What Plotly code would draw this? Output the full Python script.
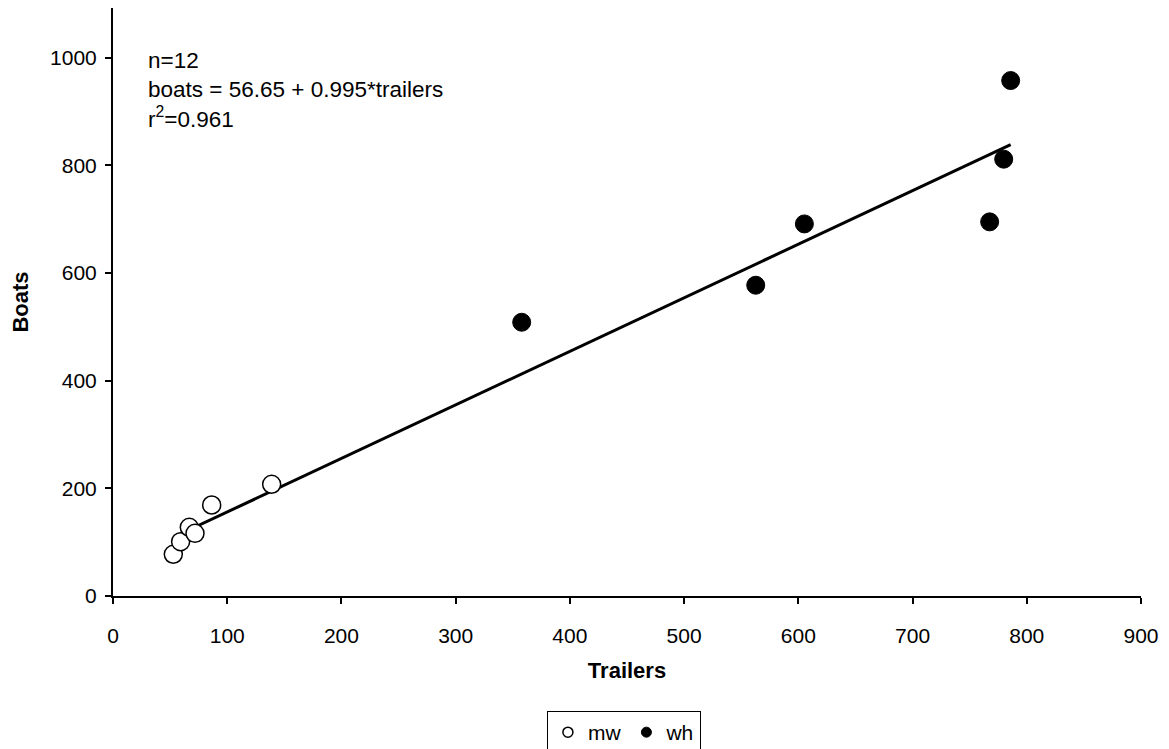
import plotly.graph_objects as go

# data
mw_trailers = [52.8, 59.2, 66.8, 71.8, 86.4, 138.9]
mw_boats = [77.5, 100.9, 127.7, 116.5, 169.1, 207.6]
wh_trailers = [357.8, 562.7, 605.3, 767.5, 779.8, 785.9]
wh_boats = [508.7, 577.5, 691.4, 695.2, 811.7, 957.8]
intercept = 56.65
slope = 0.995
x_ticks = [0, 100, 200, 300, 400, 500, 600, 700, 800, 900]
y_ticks = [0, 200, 400, 600, 800, 1000]

all_x = mw_trailers + wh_trailers
fit_x = [min(all_x), max(all_x)]
fit_y = [intercept + slope * v for v in fit_x]

FONT = "Liberation Sans, Arial, sans-serif"

fig = go.Figure()
fig.add_trace(go.Scatter(x=fit_x, y=fit_y, mode="lines",
                         line=dict(color="black", width=3), showlegend=False,
                         hoverinfo="skip"))
fig.add_trace(go.Scatter(x=mw_trailers, y=mw_boats, mode="markers", name="mw",
                         showlegend=False,
                         marker=dict(symbol="circle", size=18, color="white",
                                     line=dict(color="black", width=1.5))))
fig.add_trace(go.Scatter(x=wh_trailers, y=wh_boats, mode="markers", name="wh",
                         showlegend=False,
                         marker=dict(symbol="circle", size=18, color="black",
                                     line=dict(color="black", width=1))))
# legend entries (small symbols as in the reference)
fig.add_trace(go.Scatter(x=[None], y=[None], mode="markers", name="mw",
                         marker=dict(symbol="circle", size=10, color="white",
                                     line=dict(color="black", width=1.5))))
fig.add_trace(go.Scatter(x=[None], y=[None], mode="markers", name="wh",
                         marker=dict(symbol="circle", size=10, color="black",
                                     line=dict(color="black", width=1))))

fig.update_layout(
    width=1161, height=741,
    margin=dict(l=105, r=28, t=0, b=153, autoexpand=False),
    paper_bgcolor="white", plot_bgcolor="white",
    font=dict(family=FONT, size=21, color="black"),
    showlegend=True,
    legend=dict(orientation="h", x=0.497, xanchor="center", y=-0.1956, yanchor="top",
                bordercolor="black", borderwidth=1, bgcolor="white",
                font=dict(size=21), itemsizing="trace", itemwidth=30,
                tracegroupgap=0),
    xaxis=dict(range=[0, 900], tickvals=x_ticks, showgrid=False, zeroline=False,
               showline=True, linecolor="black", linewidth=2, automargin=False,
               ticks="outside", ticklen=6, tickcolor="black", tickwidth=2,
               ticklabelstandoff=14,
               title=dict(text="<b>Trailers</b>", font=dict(size=22), standoff=16),
               tickfont=dict(size=21)),
    yaxis=dict(range=[0, 1092.6], tickvals=y_ticks, showgrid=False, zeroline=False,
               showline=True, linecolor="black", linewidth=2, automargin=False,
               ticks="outside", ticklen=6, tickcolor="black", tickwidth=2,
               ticklabelstandoff=4,
               title=dict(text="<b>Boats</b>", font=dict(size=22), standoff=18),
               tickfont=dict(size=21)),
    annotations=[dict(
        text="n=12<br>boats = 56.65 + 0.995*trailers<br>r<sup>2</sup>=0.961",
        xref="paper", yref="paper", x=0.032, y=0.935, xanchor="left", yanchor="top",
        showarrow=False, align="left", font=dict(size=22.5, family=FONT))],
)

fig.write_html("out.html")
